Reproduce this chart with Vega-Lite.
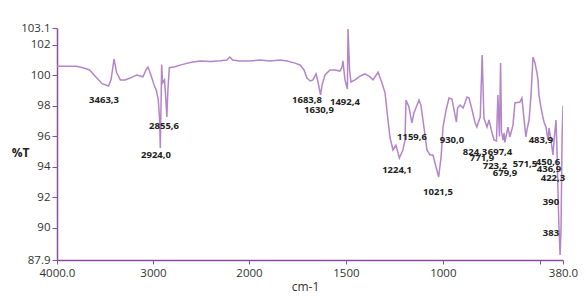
{
  "$schema": "https://vega.github.io/schema/vega-lite/v6.json",
  "width": 506,
  "height": 232,
  "autosize": {"type": "none"},
  "padding": {"left": 57, "top": 28, "right": 23, "bottom": 36},
  "background": "white",
  "view": {"stroke": null},
  "config": {"font": "Open Sans"},
  "datasets": {
    "spectrum": [
      {"wn": 4000, "T": 100.6}, {"wn": 3900, "T": 100.6}, {"wn": 3800, "T": 100.6}, {"wn": 3730, "T": 100.5},
      {"wn": 3660, "T": 100.35}, {"wn": 3590, "T": 99.85}, {"wn": 3530, "T": 99.45}, {"wn": 3463.3, "T": 99.3},
      {"wn": 3437, "T": 99.7}, {"wn": 3406, "T": 101.07}, {"wn": 3380, "T": 100.2}, {"wn": 3340, "T": 99.7},
      {"wn": 3290, "T": 99.7}, {"wn": 3240, "T": 99.82}, {"wn": 3170, "T": 100.02}, {"wn": 3105, "T": 99.9},
      {"wn": 3073, "T": 100.35}, {"wn": 3052, "T": 100.54}, {"wn": 3021, "T": 100.0}, {"wn": 2990, "T": 99.4},
      {"wn": 2965, "T": 99.0}, {"wn": 2945, "T": 98.4}, {"wn": 2932, "T": 97.2}, {"wn": 2924, "T": 95.24},
      {"wn": 2915, "T": 98.5}, {"wn": 2910, "T": 100.7}, {"wn": 2900, "T": 99.5}, {"wn": 2880, "T": 99.7},
      {"wn": 2868, "T": 98.6}, {"wn": 2855.6, "T": 97.27}, {"wn": 2845, "T": 99.0}, {"wn": 2830, "T": 100.5},
      {"wn": 2780, "T": 100.55}, {"wn": 2700, "T": 100.7}, {"wn": 2600, "T": 100.85}, {"wn": 2510, "T": 100.94},
      {"wn": 2400, "T": 100.9}, {"wn": 2300, "T": 100.95}, {"wn": 2230, "T": 101.0}, {"wn": 2200, "T": 101.2},
      {"wn": 2170, "T": 101.0}, {"wn": 2100, "T": 100.94}, {"wn": 2000, "T": 100.94}, {"wn": 1943, "T": 101.0},
      {"wn": 1892, "T": 100.94}, {"wn": 1840, "T": 101.0}, {"wn": 1804, "T": 100.94}, {"wn": 1763, "T": 100.8},
      {"wn": 1737, "T": 100.68}, {"wn": 1716, "T": 100.35}, {"wn": 1701, "T": 99.82}, {"wn": 1683.8, "T": 99.63},
      {"wn": 1670, "T": 99.7}, {"wn": 1654, "T": 100.09}, {"wn": 1644, "T": 99.56}, {"wn": 1630.9, "T": 98.71},
      {"wn": 1623, "T": 99.37}, {"wn": 1608, "T": 100.02}, {"wn": 1582, "T": 100.35}, {"wn": 1556, "T": 100.35},
      {"wn": 1531, "T": 100.28}, {"wn": 1520, "T": 100.54}, {"wn": 1515, "T": 100.94}, {"wn": 1505, "T": 99.7},
      {"wn": 1492.4, "T": 99.1}, {"wn": 1489, "T": 103.03}, {"wn": 1481, "T": 100.35}, {"wn": 1474, "T": 99.56},
      {"wn": 1453, "T": 99.7}, {"wn": 1427, "T": 99.95}, {"wn": 1402, "T": 100.09}, {"wn": 1376, "T": 99.9},
      {"wn": 1360, "T": 99.7}, {"wn": 1334, "T": 100.2}, {"wn": 1314, "T": 99.5}, {"wn": 1298, "T": 98.84},
      {"wn": 1283, "T": 97.07}, {"wn": 1272, "T": 95.89}, {"wn": 1257, "T": 95.11}, {"wn": 1242, "T": 95.43},
      {"wn": 1224.1, "T": 94.58}, {"wn": 1206, "T": 95.11}, {"wn": 1195, "T": 95.76}, {"wn": 1190, "T": 98.38},
      {"wn": 1175, "T": 97.92}, {"wn": 1159.6, "T": 96.88}, {"wn": 1149, "T": 97.53}, {"wn": 1133, "T": 98.05},
      {"wn": 1123, "T": 98.38}, {"wn": 1113, "T": 98.05}, {"wn": 1097, "T": 96.55}, {"wn": 1082, "T": 95.11},
      {"wn": 1066, "T": 94.78}, {"wn": 1051, "T": 94.78}, {"wn": 1035, "T": 93.99}, {"wn": 1021.5, "T": 93.34},
      {"wn": 1009, "T": 94.65}, {"wn": 999, "T": 96.61}, {"wn": 983, "T": 97.73}, {"wn": 968, "T": 98.51},
      {"wn": 953, "T": 98.45}, {"wn": 930, "T": 96.94}, {"wn": 924, "T": 97.86}, {"wn": 911, "T": 98.05},
      {"wn": 895, "T": 97.86}, {"wn": 875, "T": 98.58}, {"wn": 865, "T": 98.51}, {"wn": 849, "T": 97.73},
      {"wn": 834, "T": 96.9}, {"wn": 824.3, "T": 96.61}, {"wn": 818, "T": 96.88}, {"wn": 807, "T": 97.27},
      {"wn": 797, "T": 101.33}, {"wn": 788, "T": 97.2}, {"wn": 771.9, "T": 96.61}, {"wn": 762, "T": 97.07},
      {"wn": 746, "T": 96.22}, {"wn": 736, "T": 95.76}, {"wn": 723.2, "T": 95.7}, {"wn": 716, "T": 98.71},
      {"wn": 708, "T": 96.0}, {"wn": 702, "T": 100.81}, {"wn": 697.4, "T": 96.3}, {"wn": 689, "T": 95.76},
      {"wn": 684, "T": 96.22}, {"wn": 679.9, "T": 95.6}, {"wn": 664, "T": 96.61}, {"wn": 654, "T": 95.96},
      {"wn": 638, "T": 96.74}, {"wn": 628, "T": 98.19}, {"wn": 602, "T": 98.25}, {"wn": 592, "T": 98.51},
      {"wn": 571.5, "T": 95.96}, {"wn": 566, "T": 96.42}, {"wn": 555, "T": 97.07}, {"wn": 545, "T": 98.7},
      {"wn": 540, "T": 99.9}, {"wn": 535, "T": 101.2}, {"wn": 524.5, "T": 100.81}, {"wn": 514, "T": 100.15},
      {"wn": 509, "T": 99.69}, {"wn": 504, "T": 98.71}, {"wn": 494, "T": 97.92}, {"wn": 483.9, "T": 97.27},
      {"wn": 478, "T": 96.94}, {"wn": 468, "T": 96.61}, {"wn": 457, "T": 95.76}, {"wn": 452, "T": 96.55},
      {"wn": 442, "T": 95.76}, {"wn": 432, "T": 94.78}, {"wn": 426, "T": 95.76}, {"wn": 416, "T": 97.07},
      {"wn": 411, "T": 95.11}, {"wn": 406, "T": 92.49}, {"wn": 401, "T": 90.06}, {"wn": 395, "T": 88.23},
      {"wn": 390, "T": 90.06}, {"wn": 385, "T": 95.76}, {"wn": 380, "T": 98.0}
    ],
    "labels": [
      {"wn": 3510, "T": 98.38, "text": "3463,3"},
      {"wn": 2885, "T": 96.68, "text": "2855,6"},
      {"wn": 2969, "T": 94.78, "text": "2924,0"},
      {"wn": 1701, "T": 98.38, "text": "1683,8"},
      {"wn": 1639, "T": 97.73, "text": "1630,9"},
      {"wn": 1505, "T": 98.25, "text": "1492,4"},
      {"wn": 1159, "T": 95.96, "text": "1159,6"},
      {"wn": 1236, "T": 93.8, "text": "1224,1"},
      {"wn": 1025, "T": 92.35, "text": "1021,5"},
      {"wn": 953, "T": 95.76, "text": "930,0"},
      {"wn": 834, "T": 94.98, "text": "824,3"},
      {"wn": 705, "T": 94.98, "text": "697,4"},
      {"wn": 798, "T": 94.58, "text": "771,9"},
      {"wn": 731, "T": 94.06, "text": "723,2"},
      {"wn": 679, "T": 93.6, "text": "679,9"},
      {"wn": 576, "T": 94.19, "text": "571,5"},
      {"wn": 457, "T": 94.32, "text": "450,6"},
      {"wn": 494, "T": 95.76, "text": "483,9"},
      {"wn": 452, "T": 93.86, "text": "436,9"},
      {"wn": 432, "T": 93.27, "text": "422,3"},
      {"wn": 442, "T": 91.7, "text": "390"},
      {"wn": 442, "T": 89.67, "text": "383"}
    ]
  },
  "encoding": {
    "x": {
      "field": "wn",
      "type": "quantitative",
      "scale": {"domain": [4000, 2000, 380], "range": [0, 192, 506], "nice": false, "zero": false},
      "axis": {
        "title": "cm-1",
        "titleFont": "Open Sans",
        "titleFontSize": 12,
        "titleFontWeight": "normal",
        "titleColor": "#333333",
        "titleX": 248,
        "titleY": 26,
        "titleBaseline": "middle",
        "values": [4000, 3000, 2000, 1500, 1000, 500, 380],
        "labelExpr": "datum.value == 4000 ? '4000.0' : datum.value == 380 ? '380.0' : datum.value == 500 ? '' : toString(datum.value)",
        "labelFont": "Open Sans",
        "labelFontSize": 11.5,
        "labelColor": "#333333",
        "labelFlush": false,
        "labelOverlap": false,
        "labelPadding": 3,
        "domainColor": "#8B4C9E",
        "domainWidth": 1.5,
        "tickColor": "#8B4C9E",
        "tickSize": 4,
        "grid": false
      }
    },
    "y": {
      "field": "T",
      "type": "quantitative",
      "scale": {"domain": [87.9, 103.1], "nice": false, "zero": false},
      "axis": {
        "title": "%T",
        "titleFont": "Open Sans",
        "titleFontSize": 12,
        "titleFontWeight": "bold",
        "titleColor": "#222222",
        "titleAngle": 0,
        "titleX": -37,
        "titleY": 124,
        "titleAlign": "center",
        "titleBaseline": "middle",
        "values": [87.9, 90, 92, 94, 96, 98, 100, 102, 103.1],
        "labelExpr": "toString(datum.value)",
        "labelFont": "Open Sans",
        "labelFontSize": 11.5,
        "labelColor": "#333333",
        "labelPadding": 2,
        "labelOverlap": false,
        "labelFlush": false,
        "domainColor": "#8B4C9E",
        "domainWidth": 1.5,
        "tickColor": "#8B4C9E",
        "tickSize": 5,
        "grid": false
      }
    }
  },
  "layer": [
    {
      "data": {"name": "spectrum"},
      "mark": {"type": "line", "color": "#B385C9", "strokeWidth": 1.5, "clip": true}
    },
    {
      "data": {"name": "labels"},
      "mark": {"type": "text", "font": "Open Sans", "fontSize": 9.5, "fontWeight": "bold", "color": "#222222", "align": "center", "baseline": "middle"},
      "encoding": {"text": {"field": "text", "type": "nominal"}}
    }
  ]
}
